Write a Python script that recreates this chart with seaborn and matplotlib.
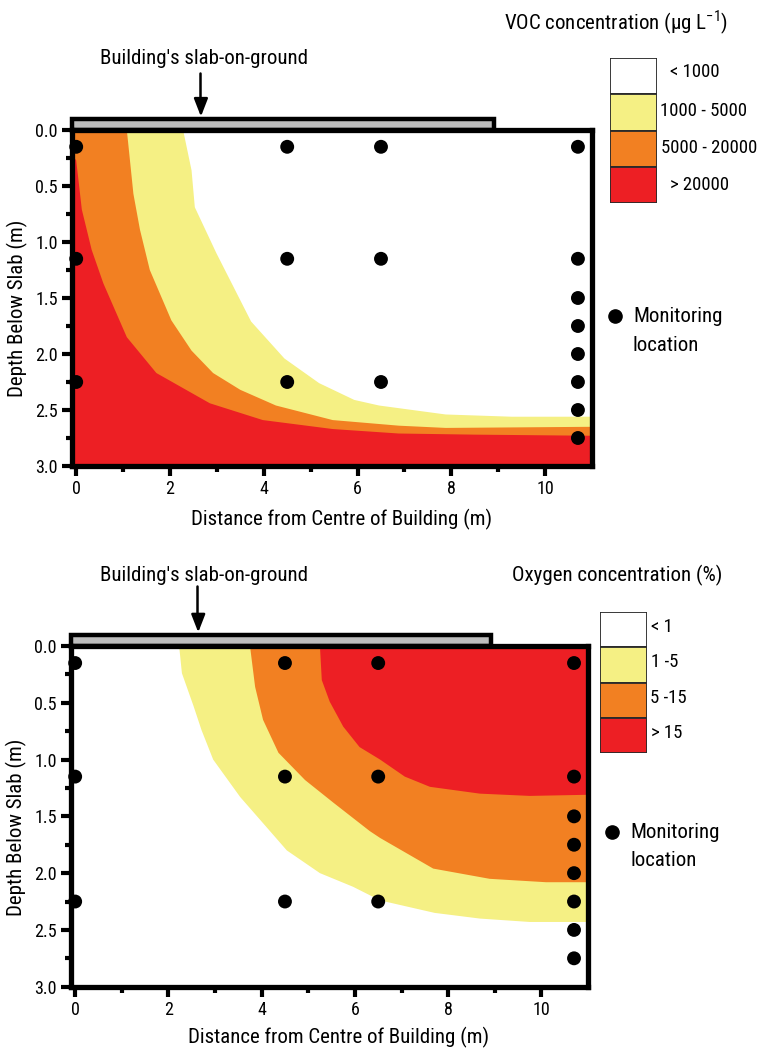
import numpy as np
import pandas as pd
import matplotlib
matplotlib.use("Agg")
import matplotlib.pyplot as plt
from matplotlib.patches import Rectangle
from matplotlib.lines import Line2D
import seaborn as sns

# ---------------- data ----------------
x_major = [0, 2, 4, 6, 8, 10]
x_minor = [1, 3, 5, 7, 9]
y_major = [0.0, 0.5, 1.0, 1.5, 2.0, 2.5, 3.0]
y_minor = [0.25, 0.75, 1.25, 1.75, 2.25, 2.75]
y_labels = ["0.0", "0.5", "1.0", "1.5", "2.0", "2.5", "3.0"]

monitor_x = [0, 0, 0, 4.5, 4.5, 4.5, 6.5, 6.5, 6.5,
             10.7, 10.7, 10.7, 10.7, 10.7, 10.7, 10.7, 10.7]
monitor_depth = [0.15, 1.15, 2.25, 0.15, 1.15, 2.25, 0.15, 1.15, 2.25,
                 0.15, 1.15, 1.5, 1.75, 2.0, 2.25, 2.5, 2.75]

# VOC contour boundaries (distance m, depth m)
voc_yellow_x = [2.28, 2.46, 2.53, 2.99, 3.73, 4.44, 5.18, 5.93, 6.46, 7.88, 9.29, 11.0]
voc_yellow_d = [0.0, 0.36, 0.69, 1.10, 1.71, 2.04, 2.26, 2.41, 2.46, 2.54, 2.56, 2.56]
voc_orange_x = [1.08, 1.22, 1.36, 1.57, 2.03, 2.46, 2.92, 3.5, 4.26, 5.47, 6.88, 7.88, 11.0]
voc_orange_d = [0.0, 0.57, 0.89, 1.25, 1.70, 1.97, 2.17, 2.32, 2.46, 2.59, 2.64, 2.66, 2.65]
voc_red_x = [-0.1, 0.0, 0.12, 0.33, 0.58, 1.08, 1.71, 2.85, 3.98, 5.47, 6.88, 8.5, 11.0]
voc_red_d = [0.22, 0.27, 0.71, 1.07, 1.37, 1.85, 2.17, 2.44, 2.59, 2.67, 2.71, 2.72, 2.73]

voc_labels = ["< 1000", "1000 - 5000", "5000 - 20000", "> 20000"]

# Oxygen contour boundaries
o2_yellow_x = [2.23, 2.29, 2.54, 2.71, 2.96, 3.54, 4.03, 4.54, 5.25, 5.96, 6.54, 7.71, 8.68, 9.75, 11.0]
o2_yellow_d = [0.0, 0.24, 0.53, 0.74, 1.00, 1.33, 1.56, 1.80, 2.00, 2.12, 2.24, 2.35, 2.40, 2.43, 2.43]
o2_orange_x = [3.75, 3.86, 4.03, 4.36, 4.93, 5.54, 6.32, 6.54, 7.68, 8.89, 10.1, 11.0]
o2_orange_d = [0.0, 0.36, 0.65, 0.94, 1.18, 1.38, 1.63, 1.69, 1.96, 2.05, 2.08, 2.08]
o2_red_x = [5.25, 5.29, 5.46, 5.75, 6.1, 6.54, 7.07, 7.61, 8.68, 9.75, 11.0]
o2_red_d = [0.0, 0.30, 0.49, 0.71, 0.89, 1.00, 1.15, 1.24, 1.30, 1.32, 1.31]

o2_labels = ["< 1", "1 -5", "5 -15", "> 15"]

slab_end = 8.92
slab_arrow_x = [2.66, 2.64]

# ---------------- style ----------------
WHITE = "#FFFFFF"
YELLOW = "#F5F084"
ORANGE = "#F28022"
RED = "#ED1F24"
band_colors = [WHITE, YELLOW, ORANGE, RED]

sns.set_theme(style="ticks")
plt.rcParams["font.family"] = ["Roboto Condensed", "DejaVu Sans"]
plt.rcParams["text.color"] = "black"
plt.rcParams["axes.labelcolor"] = "black"
plt.rcParams["xtick.color"] = "black"
plt.rcParams["ytick.color"] = "black"

W, H = 761, 1052
fig = plt.figure(figsize=(W / 100, H / 100), dpi=100)


def fx(px):
    return px / W


def fy(py):
    return 1 - py / H


XMIN, XMAX = -0.1, 11.0
monitor_df = pd.DataFrame({"x": monitor_x, "depth": monitor_depth})
FS = 15


def panel(rect_px, bounds, fill_side, arrow_x, text_px, arrow_px, title, title_px,
          leg_px, labels, label_px, mon_px, xlabel_px, ylabel_px):
    l, t, r, b = rect_px
    ax = fig.add_axes([fx(l), fy(b), fx(r) - fx(l), fy(t) - fy(b)])
    ax.set_xlim(XMIN, XMAX)
    ax.set_ylim(3.0, 0.0)

    for bx, bd, col in bounds:
        pts = list(zip(bx, bd))
        if fill_side == "lower":
            pts = [(-0.6, bd[0])] + pts + [(11.6, bd[-1]), (11.6, 3.5), (-0.6, 3.5)]
        else:
            pts = pts + [(11.6, bd[-1]), (11.6, -0.5), (bx[0], -0.5)]
        xs, ys = zip(*pts)
        ax.fill(xs, ys, color=col, lw=0, zorder=1)

    sns.scatterplot(data=monitor_df, x="x", y="depth", ax=ax, color="black",
                    s=100, edgecolor="none", zorder=6, clip_on=False, legend=False)

    # slab on ground
    ax.add_patch(Rectangle((XMIN, -0.095), slab_end - XMIN, 0.095, facecolor="#BDBDBD",
                           edgecolor="black", lw=3.2, clip_on=False, zorder=4))

    for s in ax.spines.values():
        s.set_linewidth(3.8)
        s.set_color("black")
        s.set_zorder(5)

    ax.set_xticks(x_major)
    ax.set_xticks(x_minor, minor=True)
    ax.set_yticks(y_major)
    ax.set_yticklabels(y_labels)
    ax.set_yticks(y_minor, minor=True)
    ax.tick_params(which="major", direction="out", length=7, width=3, labelsize=13, pad=3)
    ax.tick_params(which="minor", direction="out", length=4, width=3)

    ax.set_xlabel("Distance from Centre of Building (m)", fontsize=FS)
    ax.xaxis.set_label_coords(fx(xlabel_px[0]), fy(xlabel_px[1]), transform=fig.transFigure)
    ax.set_ylabel("Depth Below Slab (m)", fontsize=FS)
    ax.yaxis.set_label_coords(fx(ylabel_px[0]), fy(ylabel_px[1]), transform=fig.transFigure)

    # arrow + annotation
    fig.text(fx(text_px[0]), fy(text_px[1]), "Building's slab-on-ground", fontsize=FS,
             ha="center", va="center")
    fig.add_artist(Line2D([fx(arrow_px[0])] * 2, [fy(arrow_px[1]), fy(arrow_px[2] - 8)],
                          color="black", lw=1.8))
    ax.annotate("", xy=(arrow_x, -0.12), xytext=(arrow_x, -0.22),
                arrowprops=dict(arrowstyle="-|>,head_width=0.35,head_length=0.9",
                                color="black", lw=1.8, shrinkA=0, shrinkB=0),
                annotation_clip=False)

    # title
    fig.text(fx(title_px[0]), fy(title_px[1]), title, fontsize=FS, ha="right", va="center")

    # colour-band legend
    ll, lt, lr, lb = leg_px
    lax = fig.add_axes([fx(ll), fy(lb), fx(lr) - fx(ll), fy(lt) - fy(lb)])
    lax.bar([0, 0, 0, 0], [1, 1, 1, 1], bottom=[3, 2, 1, 0], width=1.0,
            color=band_colors, edgecolor="#2a2a2a", linewidth=1.3)
    lax.set_xlim(-0.5, 0.5)
    lax.set_ylim(0, 4)
    lax.axis("off")
    for lab, (px, py) in zip(labels, label_px):
        fig.text(fx(px), fy(py), lab, fontsize=13.5, ha="left", va="center")

    # monitoring location key
    fig.add_artist(Line2D([fx(mon_px[0])], [fy(mon_px[1])], marker="o", color="black",
                          markersize=9.5, linestyle="none"))
    fig.text(fx(mon_px[0] + 18), fy(mon_px[1] + 1), "Monitoring", fontsize=FS,
             ha="left", va="center")
    fig.text(fx(mon_px[0] + 18), fy(mon_px[1] + 29), "location", fontsize=FS,
             ha="left", va="center")
    return ax


panel(rect_px=(71.5, 130, 592, 466),
      bounds=[(voc_yellow_x, voc_yellow_d, YELLOW),
              (voc_orange_x, voc_orange_d, ORANGE),
              (voc_red_x, voc_red_d, RED)],
      fill_side="lower", arrow_x=slab_arrow_x[0],
      text_px=(204, 58), arrow_px=(200, 73, 115),
      title="VOC concentration (\u03bcg L$^{\\mathregular{-1}}$)", title_px=(728, 23),
      leg_px=(610, 58, 657, 203),
      labels=voc_labels,
      label_px=[(670, 72), (660, 111), (661, 148), (670, 185)],
      mon_px=(615, 316), xlabel_px=(342, 509), ylabel_px=(28, 308))

panel(rect_px=(70.5, 646, 588, 986.7),
      bounds=[(o2_yellow_x, o2_yellow_d, YELLOW),
              (o2_orange_x, o2_orange_d, ORANGE),
              (o2_red_x, o2_red_d, RED)],
      fill_side="upper", arrow_x=slab_arrow_x[1],
      text_px=(204, 575.5), arrow_px=(197, 586, 630),
      title="Oxygen concentration (%)", title_px=(722, 575),
      leg_px=(600, 612, 647, 753),
      labels=o2_labels,
      label_px=[(651, 627), (651, 662), (650, 698), (651, 733)],
      mon_px=(612, 832), xlabel_px=(339, 1027), ylabel_px=(27, 827))

fig.savefig("out.png", dpi=100)
